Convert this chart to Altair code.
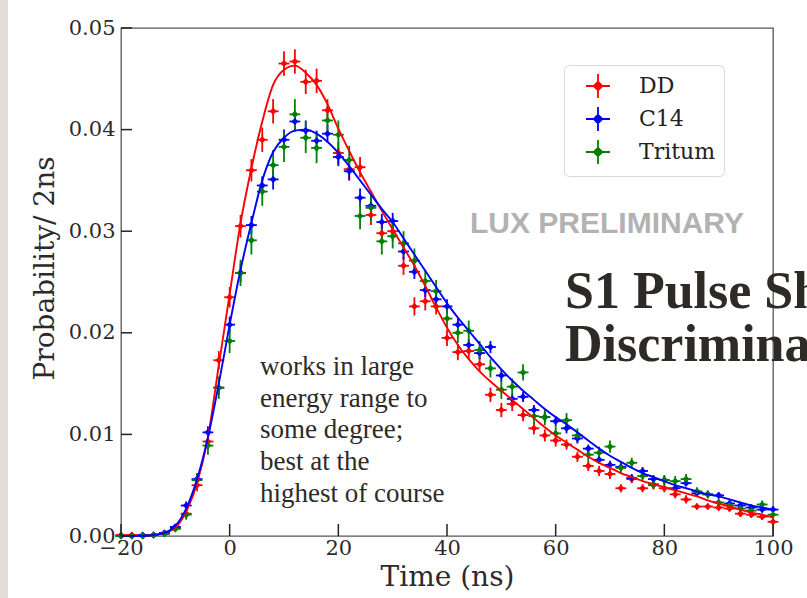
import altair as alt
import pandas as pd

# ---------------- data ----------------
x_ns = list(range(-20, 101, 2))

dd = [0.0001, 0.0001, 0.0000, 0.0001, 0.0003,
      0.0008, 0.0022, 0.0050, 0.0093, 0.0173,
      0.0235, 0.0305, 0.0360, 0.0390, 0.0418, 0.0465, 0.0467, 0.0447, 0.0448, 0.0419, 0.0377,
      0.0361, 0.0363, 0.0316, 0.0298, 0.0300, 0.0266, 0.0226, 0.0231, 0.0226, 0.0195,
      0.0181, 0.0182, 0.0169, 0.0139, 0.0124, 0.0130, 0.0119, 0.0106, 0.0099, 0.0094,
      0.0090, 0.0078, 0.0069, 0.0064, 0.0061, 0.0047, 0.0056, 0.0047, 0.0050, 0.0047,
      0.0041, 0.0036, 0.0029, 0.0029, 0.0028, 0.0027, 0.0022, 0.0021, 0.0019, 0.0014]

c14 = [0.0000, 0.0000, 0.0001, 0.0001, 0.0003,
       0.0009, 0.0030, 0.0056, 0.0102, 0.0146,
       0.0208, 0.0259, 0.0306, 0.0345, 0.0351, 0.0390, 0.0408, 0.0399, 0.0389, 0.0396, 0.0373,
       0.0359, 0.0333, 0.0325, 0.0309, 0.0310, 0.0280, 0.0260, 0.0242, 0.0233, 0.0226,
       0.0208, 0.0188, 0.0180, 0.0186, 0.0158, 0.0135, 0.0137, 0.0124, 0.0117, 0.0113,
       0.0106, 0.0096, 0.0086, 0.0075, 0.0070, 0.0068, 0.0057, 0.0064, 0.0056, 0.0055,
       0.0047, 0.0052, 0.0042, 0.0041, 0.0040, 0.0032, 0.0030, 0.0028, 0.0026, 0.0026]

tritum = [0.0000, 0.0000, 0.0000, 0.0001, 0.0002,
          0.0007, 0.0021, 0.0055, 0.0089, 0.0146,
          0.0192, 0.0259, 0.0291, 0.0339, 0.0365, 0.0383, 0.0415, 0.0392, 0.0382, 0.0409, 0.0395,
          0.0370, 0.0315, 0.0323, 0.0290, 0.0295, 0.0288, 0.0271, 0.0251, 0.0241, 0.0214,
          0.0200, 0.0202, 0.0183, 0.0165, 0.0144, 0.0147, 0.0161, 0.0118, 0.0117, 0.0101,
          0.0114, 0.0099, 0.0080, 0.0082, 0.0088, 0.0067, 0.0072, 0.0059, 0.0051, 0.0055,
          0.0054, 0.0056, 0.0044, 0.0041, 0.0033, 0.0030, 0.0027, 0.0025, 0.0031, 0.0021]

dd_err = [0.0001, 0.0001, 0.0001, 0.0001, 0.0002,
          0.0003, 0.0004, 0.0006, 0.0007, 0.0009,
          0.0010, 0.0011, 0.0011, 0.0012, 0.0012, 0.0012, 0.0012, 0.0012, 0.0012, 0.0011, 0.0011,
          0.0011, 0.0010, 0.0010, 0.0010, 0.0010, 0.0009, 0.0009, 0.0009, 0.0008, 0.0008,
          0.0008, 0.0008, 0.0007, 0.0007, 0.0007, 0.0007, 0.0006, 0.0006, 0.0006, 0.0006,
          0.0005, 0.0005, 0.0005, 0.0005, 0.0005, 0.0004, 0.0004, 0.0004, 0.0004, 0.0004,
          0.0004, 0.0004, 0.0003, 0.0003, 0.0003, 0.0003, 0.0003, 0.0003, 0.0003, 0.0003]

c14_err = [0.0001, 0.0001, 0.0001, 0.0001, 0.0001,
           0.0002, 0.0004, 0.0005, 0.0006, 0.0007,
           0.0008, 0.0009, 0.0009, 0.0009, 0.0010, 0.0010, 0.0010, 0.0010, 0.0010, 0.0009, 0.0009,
           0.0009, 0.0009, 0.0008, 0.0008, 0.0008, 0.0008, 0.0007, 0.0007, 0.0007, 0.0007,
           0.0006, 0.0006, 0.0006, 0.0006, 0.0006, 0.0005, 0.0005, 0.0005, 0.0005, 0.0005,
           0.0005, 0.0005, 0.0004, 0.0004, 0.0004, 0.0004, 0.0004, 0.0004, 0.0004, 0.0004,
           0.0004, 0.0003, 0.0003, 0.0003, 0.0003, 0.0003, 0.0003, 0.0003, 0.0003, 0.0003]

tritum_err = [0.0001, 0.0001, 0.0001, 0.0001, 0.0002,
              0.0003, 0.0005, 0.0007, 0.0009, 0.0011,
              0.0012, 0.0013, 0.0014, 0.0014, 0.0015, 0.0015, 0.0015, 0.0015, 0.0015, 0.0014, 0.0014,
              0.0014, 0.0013, 0.0013, 0.0013, 0.0012, 0.0012, 0.0012, 0.0011, 0.0011, 0.0010,
              0.0010, 0.0010, 0.0009, 0.0009, 0.0009, 0.0008, 0.0008, 0.0008, 0.0008, 0.0007,
              0.0007, 0.0007, 0.0006, 0.0006, 0.0006, 0.0006, 0.0005, 0.0005, 0.0005, 0.0005,
              0.0005, 0.0005, 0.0004, 0.0004, 0.0004, 0.0004, 0.0004, 0.0004, 0.0004, 0.0004]

dd_fit = [0.0000, 0.0000, 0.0000, 0.0001, 0.0003,
          0.0008, 0.0024, 0.0052, 0.0097, 0.0168,
          0.0238, 0.0308, 0.0362, 0.0408, 0.0444, 0.0459, 0.0463, 0.0456, 0.0444, 0.0425, 0.0401,
          0.0379, 0.0358, 0.0339, 0.0320, 0.0302, 0.0284, 0.0266, 0.0246, 0.0225, 0.0205,
          0.0188, 0.0174, 0.0162, 0.0152, 0.0143, 0.0134, 0.0125, 0.0116, 0.0107, 0.0099,
          0.0092, 0.0085, 0.0078, 0.0072, 0.0067, 0.0062, 0.0058, 0.0054, 0.0051, 0.0048,
          0.0045, 0.0042, 0.0039, 0.0035, 0.0032, 0.0029, 0.0026, 0.0023, 0.0021, 0.0018]

c14_fit = [0.0000, 0.0000, 0.0000, 0.0001, 0.0003,
           0.0010, 0.0027, 0.0056, 0.0097, 0.0150,
           0.0208, 0.0262, 0.0308, 0.0350, 0.0378, 0.0392, 0.0399, 0.0400, 0.0396, 0.0388, 0.0377,
           0.0364, 0.0350, 0.0336, 0.0322, 0.0309, 0.0293, 0.0277, 0.0261, 0.0245, 0.0229,
           0.0215, 0.0202, 0.0189, 0.0176, 0.0164, 0.0153, 0.0143, 0.0134, 0.0125, 0.0117,
           0.0110, 0.0102, 0.0094, 0.0086, 0.0079, 0.0073, 0.0067, 0.0062, 0.0058, 0.0054,
           0.0050, 0.0047, 0.0044, 0.0041, 0.0039, 0.0036, 0.0033, 0.0030, 0.0028, 0.0026]

series_names = ["DD", "C14", "Tritum"]
series_colors = ["#ff0000", "#0000ff", "#008000"]
x_bin_half = 1.0

x_ticks = [-20, 0, 20, 40, 60, 80, 100]
y_ticks = [0.0, 0.01, 0.02, 0.03, 0.04, 0.05]

note_lines = ["works in large", "energy range to", "some degree;",
              "best at the", "highest of course"]
watermark = "LUX PRELIMINARY"
slide_title = ["S1 Pulse Shape", "Discrimination"]

# ---------------- tables ----------------
rows = []
for name, vals, errs in [("DD", dd, dd_err), ("C14", c14, c14_err), ("Tritum", tritum, tritum_err)]:
    for xv, v, e in zip(x_ns, vals, errs):
        rows.append({"series": name, "t": xv, "p": v,
                     "lo": max(v - e, 0.0), "hi": v + e,
                     "tlo": xv - x_bin_half, "thi": xv + x_bin_half})
pts_df = pd.DataFrame(rows)

fit_rows = []
for name, vals in [("DD", dd_fit), ("C14", c14_fit)]:
    for xv, v in zip(x_ns, vals):
        fit_rows.append({"series": name, "t": xv, "p": v})
fit_df = pd.DataFrame(fit_rows)

xt_df = pd.DataFrame({"t": x_ticks})
yt_df = pd.DataFrame({"p": y_ticks})
one = pd.DataFrame({"k": [0]})

W, H = 652, 508
SERIF = "DejaVu Serif"

xs = alt.Scale(domain=[-20, 100], nice=False, zero=False)
ys = alt.Scale(domain=[0, 0.05], nice=False, zero=False)
cs = alt.Scale(domain=series_names, range=series_colors)

x_axis = alt.Axis(values=x_ticks, ticks=False, domain=False, grid=False,
                  labelFont=SERIF, labelFontSize=21, labelColor="#2b2b2b",
                  labelPadding=1, labelFlush=False, format="d",
                  title="Time (ns)", titleFont=SERIF, titleFontSize=28,
                  titleFontWeight="normal", titleColor="#2b2b2b", titlePadding=5)
y_axis = alt.Axis(values=y_ticks, ticks=False, domain=False, grid=False,
                  labelFont=SERIF, labelFontSize=21, labelColor="#2b2b2b",
                  labelPadding=6, labelFlush=False, format=".2f",
                  title="Probability/ 2ns", titleFont=SERIF, titleFontSize=28,
                  titleFontWeight="normal", titleColor="#2b2b2b", titlePadding=9,
                  titleY=240)

# plus sign with a small solid diamond in its centre (legend glyph)
legend_symbol = ("M-1,0H1M0,-1V1"
                 "M0,-0.36L0.36,0L0,0.36L-0.36,0Z"
                 "M0,-0.24L0.24,0L0,0.24L-0.24,0Z"
                 "M0,-0.12L0.12,0L0,0.12L-0.12,0Z")

legend = alt.Legend(
    title=None, orient="none", legendX=443, legendY=37,
    symbolType=legend_symbol, symbolSize=576,
    symbolStrokeWidth=1.8, symbolOffset=13, symbolOpacity=1,
    labelFont=SERIF, labelFontSize=22, labelColor="#222222",
    labelOffset=28, padding=8, rowPadding=1,
    strokeColor="#d8d8d8", cornerRadius=5, fillColor="white")

base = alt.Chart(pts_df)

strip = alt.Chart(one).mark_rect(color="#e3dfd6").encode(
    x=alt.value(-121), x2=alt.value(-113), y=alt.value(-28), y2=alt.value(570))

vbars = base.mark_rule(strokeWidth=1.8).encode(
    x=alt.X("t:Q", scale=xs, axis=x_axis),
    y=alt.Y("lo:Q", scale=ys, axis=y_axis),
    y2="hi:Q",
    color=alt.Color("series:N", scale=cs, sort=series_names, legend=legend))

hbars = base.mark_rule(strokeWidth=1.8).encode(
    x=alt.X("tlo:Q", scale=xs), x2="thi:Q",
    y=alt.Y("p:Q", scale=ys),
    color=alt.Color("series:N", scale=cs, legend=None))

points = base.mark_point(filled=True, shape="diamond", size=50, opacity=1).encode(
    x=alt.X("t:Q", scale=xs),
    y=alt.Y("p:Q", scale=ys),
    color=alt.Color("series:N", scale=cs, legend=None))

fits = alt.Chart(fit_df).mark_line(strokeWidth=1.9, interpolate="monotone").encode(
    x=alt.X("t:Q", scale=xs),
    y=alt.Y("p:Q", scale=ys),
    color=alt.Color("series:N", scale=cs, legend=None),
    detail="series:N")

xtick_marks = alt.Chart(xt_df).mark_rule(color="#222222", strokeWidth=1.5).encode(
    x=alt.X("t:Q", scale=xs), y=alt.value(H), y2=alt.value(H - 12))
ytick_marks = alt.Chart(yt_df).mark_rule(color="#222222", strokeWidth=1.5).encode(
    y=alt.Y("p:Q", scale=ys), x=alt.value(0), x2=alt.value(11))

note = alt.Chart(one).mark_text(
    text=note_lines, font="Liberation Serif", fontSize=27, lineHeight=31.7,
    align="left", baseline="middle", color="#2e2a25").encode(
    x=alt.value(139), y=alt.value(339))

wm = alt.Chart(one).mark_text(
    text=watermark, font="Liberation Sans", fontSize=30, fontWeight="bold",
    align="left", baseline="middle", color="#b2b2b2").encode(
    x=alt.value(349), y=alt.value(196))

title_txt = alt.Chart(one).mark_text(
    text=slide_title, font="Liberation Serif", fontSize=52, fontWeight="bold",
    lineHeight=53, align="left", baseline="middle", color="#2e2a25").encode(
    x=alt.value(444), y=alt.value(264))

chart = alt.layer(
    strip, vbars, hbars, points, fits, xtick_marks, ytick_marks, note, wm, title_txt
).properties(
    width=W, height=H,
    autosize=alt.AutoSizeParams(type="none"),
    padding={"left": 121, "top": 28, "right": 34, "bottom": 62},
    background="white"
).configure_view(stroke="#555555", strokeWidth=1.3)

chart.save("out.html", embed_options={"renderer": "svg", "actions": False})
